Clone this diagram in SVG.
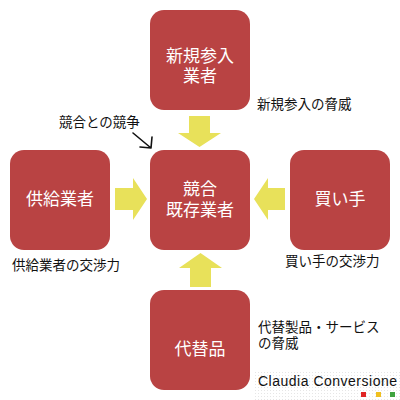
<svg xmlns="http://www.w3.org/2000/svg" width="400" height="400" viewBox="0 0 400 400">
<style>
.box{fill:#b94343}
.bt{fill:#ffffff;font-family:"Liberation Sans","Noto Sans CJK JP",sans-serif;font-size:17px;text-anchor:middle}
.lb{fill:#111111;font-family:"Liberation Sans","Noto Sans CJK JP",sans-serif;font-size:13.5px}
.ar{fill:#e8e15a}
</style>
<defs>
<pattern id="dots" width="3" height="3" patternUnits="userSpaceOnUse">
<rect x="0" y="0" width="1" height="1" fill="#e6e6e6"/>
</pattern>
</defs>
<rect x="0" y="0" width="400" height="400" fill="#ffffff"/>
<rect x="255" y="372" width="145" height="28" fill="url(#dots)"/>
<g id="connectors">
<polygon class="ar" points="189,116 210,116 210,133 221,133 199.5,147 178,133 189,133"/>
<polygon class="ar" points="115,188 133,188 133,178 147,199 133,220 133,210 115,210"/>
<polygon class="ar" points="285,188 268,188 268,178 254,199 268,220 268,210 285,210"/>
<polygon class="ar" points="190,287 211,287 211,268 222,268 200.5,253 179,268 190,268"/>
<path d="M133,133 L151,148 M152,137 L151,148 L140,147" fill="none" stroke="#111" stroke-width="1.6" stroke-linecap="round" stroke-linejoin="round"/>
</g>
<g id="new-entrants">
<rect class="box" x="150" y="10" width="100" height="100" rx="14"/>
<text class="bt" x="200" y="62">新規参入<tspan x="200" dy="20">業者</tspan></text>
</g>
<g id="rivalry">
<rect class="box" x="150" y="150" width="100" height="100" rx="14"/>
<text class="bt" x="200" y="195">競合<tspan x="200" dy="21">既存業者</tspan></text>
</g>
<g id="suppliers">
<rect class="box" x="10" y="150" width="100" height="100" rx="14"/>
<text class="bt" x="60" y="205">供給業者</text>
</g>
<g id="buyers">
<rect class="box" x="290" y="150" width="100" height="100" rx="14"/>
<text class="bt" x="340" y="205">買い手</text>
</g>
<g id="substitutes">
<rect class="box" x="150" y="290" width="100" height="100" rx="14"/>
<text class="bt" x="200" y="355">代替品</text>
</g>
<g id="labels">
<text class="lb" x="257" y="109">新規参入の脅威</text>
<text class="lb" x="59" y="127">競合との競争</text>
<text class="lb" x="12" y="270">供給業者の交渉力</text>
<text class="lb" x="285" y="266">買い手の交渉力</text>
<text class="lb" x="258" y="332" font-size="13">代替製品・サービス<tspan x="258" dy="16">の脅威</tspan></text>
<text x="258" y="386" fill="#111" font-family="Liberation Sans, Arial, sans-serif" font-size="14" textLength="139">Claudia Conversione</text>
<rect x="361" y="392" width="5" height="5" fill="#e02525"/>
<rect x="376" y="392" width="5" height="5" fill="#f0c020"/>
<rect x="390" y="392" width="5" height="5" fill="#3fa33f"/>
</g>
</svg>
